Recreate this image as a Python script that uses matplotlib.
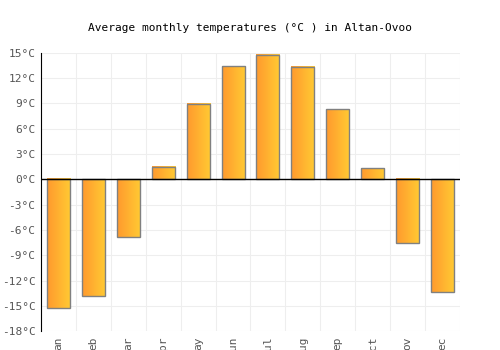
import numpy as np
import matplotlib
matplotlib.use('Agg')
import matplotlib.pyplot as plt
from matplotlib.colors import LinearSegmentedColormap

months = ["an", "eb", "ar", "pr", "ay", "un", "ul", "ug", "ep", "ct", "ov", "ec"]
temps = [-15.3, -13.8, -6.8, 1.5, 8.9, 13.4, 14.8, 13.3, 8.3, 1.3, -7.6, -13.4]
yticks = [-18, -15, -12, -9, -6, -3, 0, 3, 6, 9, 12, 15]

plt.rcParams['font.family'] = 'DejaVu Sans Mono'

fig = plt.figure(figsize=(5, 3.5), dpi=100)
ax = fig.add_axes([0.082, 0.054, 0.838, 0.795])

x = np.arange(len(months))
width = 0.66
cmap = LinearSegmentedColormap.from_list("orng", ["#ff9a2e", "#ffca33"])
grad = np.linspace(0, 1, 64).reshape(1, -1)

bars = ax.bar(x, temps, width=width, color='none', edgecolor='#808080', linewidth=1, zorder=3)
for b in bars:
    x0, y0 = b.get_x(), b.get_y()
    w, h = b.get_width(), b.get_height()
    ax.imshow(grad, cmap=cmap, aspect='auto', extent=(x0, x0 + w, y0, y0 + h),
              origin='lower', zorder=2, interpolation='bilinear')

ax.set_xlim(-0.5, len(months) - 0.5)
ax.set_ylim(-18, 15)
ax.set_yticks(yticks)
ax.set_yticklabels([f"{t}°C" for t in yticks], fontsize=8, color='#555555')
ax.set_xticks(x)
ax.set_xticklabels(months, rotation=90, fontsize=8, color='#555555')
ax.set_xticks(np.arange(-0.5, len(months), 1), minor=True)
ax.grid(False)
ax.yaxis.grid(True, color='#eeeeee', linewidth=0.8, zorder=0)
ax.xaxis.grid(True, which='minor', color='#eeeeee', linewidth=0.8, zorder=0)
ax.tick_params(axis='both', which='both', length=0, pad=4)
ax.axhline(0, color='black', linewidth=1, zorder=4)

for s in ['top', 'right', 'bottom']:
    ax.spines[s].set_visible(False)
ax.spines['left'].set_color('black')

ax.set_title("Average monthly temperatures (°C ) in Altan-Ovoo", fontsize=8, pad=16)

fig.savefig("out.png", dpi=100)
